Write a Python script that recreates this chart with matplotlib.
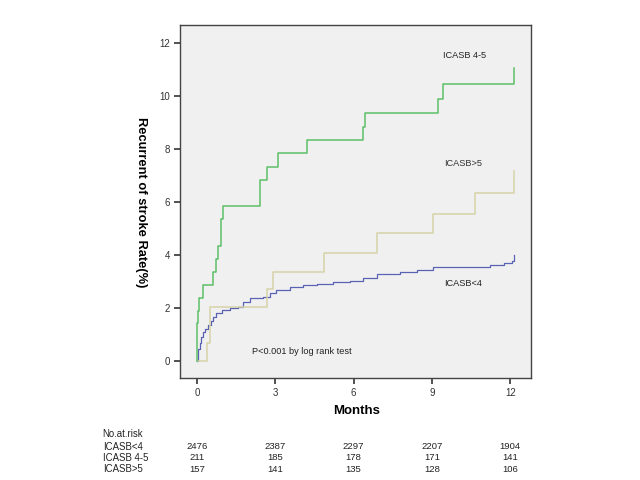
import matplotlib
matplotlib.use("Agg")
import matplotlib.pyplot as plt
from matplotlib.transforms import blended_transform_factory

plt.rcParams['font.family'] = ['Liberation Sans', 'DejaVu Sans']

# ICASB 4-5 (green) step curve: event times (months) and cumulative rate (%)
green_t = [0, 0.01, 0.04, 0.10, 0.24, 0.61, 0.75, 0.82, 0.91, 1.01, 2.43, 2.67, 3.09, 4.20, 6.38, 6.43, 9.25, 9.41, 12.13]
green_y = [0, 1.41, 1.89, 2.36, 2.86, 3.34, 3.83, 4.34, 5.34, 5.85, 6.83, 7.34, 7.84, 8.34, 8.85, 9.38, 9.91, 10.45, 11.08]

# ICASB>5 (beige)
beige_t = [0, 0.40, 0.50, 2.70, 2.93, 4.87, 6.89, 9.04, 10.66, 12.13]
beige_y = [0, 0.66, 2.02, 2.72, 3.37, 4.07, 4.82, 5.53, 6.33, 7.19]

# ICASB<4 (blue)
blue_t = [0, 0.03, 0.06, 0.11, 0.17, 0.24, 0.33, 0.43, 0.53, 0.63, 0.75, 0.95, 1.27, 1.58, 1.78, 2.03, 2.54,
          2.80, 3.05, 3.57, 4.08, 4.59, 5.23, 5.87, 6.38, 6.89, 7.78, 8.42, 9.06, 10.98, 11.23, 11.74, 12.06, 12.13]
blue_y = [0, 0.25, 0.45, 0.66, 0.90, 1.10, 1.22, 1.35, 1.50, 1.66, 1.82, 1.92, 1.98, 2.02, 2.23, 2.38, 2.42,
          2.55, 2.67, 2.80, 2.86, 2.92, 2.99, 3.01, 3.11, 3.28, 3.37, 3.43, 3.53, 3.53, 3.62, 3.71, 3.78, 4.00]

x_ticks = [0, 3, 6, 9, 12]
y_ticks = [0, 2, 4, 6, 8, 10, 12]

risk_groups = ['ICASB<4', 'ICASB 4-5', 'ICASB>5']
risk_counts = [
    [2476, 2387, 2297, 2207, 1904],
    [211, 185, 178, 171, 141],
    [157, 141, 135, 128, 106],
]

fig = plt.figure(figsize=(6.4, 4.8), dpi=100)
ax = fig.add_axes([0.281, 0.2125, 0.549, 0.736])
ax.set_facecolor('#f0f0f0')

ax.step(blue_t, blue_y, where='post', color='#5a62b4', lw=0.9)
ax.step(beige_t, beige_y, where='post', color='#d6d2a8', lw=1.1)
ax.step(green_t, green_y, where='post', color='#5cbf66', lw=1.1)

ax.set_xlim(-0.65, 12.8)
ax.set_ylim(-0.65, 12.7)
ax.set_xticks(x_ticks)
ax.set_yticks(y_ticks)
ax.tick_params(axis='both', direction='out', length=4, width=1.2, colors='#333333', labelsize=7, pad=3)
for s in ax.spines.values():
    s.set_color('#444444')
    s.set_linewidth(1.0)

ax.text(9.44, 11.52, 'ICASB 4-5', fontsize=6.6, va='center', ha='left', color='#222222')
ax.text(9.47, 7.44, 'ICASB>5', fontsize=6.6, va='center', ha='left', color='#333333')
ax.text(9.47, 2.92, 'ICASB<4', fontsize=6.6, va='center', ha='left', color='#222222')
ax.text(2.10, 0.34, 'P<0.001 by log rank test', fontsize=6.6, va='center', ha='left', color='#222222')

fig.text(140.7 / 640, 1 - 201.7 / 480, 'Recurrent of stroke Rate(%)', rotation=270,
         fontsize=9.3, fontweight='bold', ha='center', va='center')
fig.text(356.7 / 640, 1 - 410.7 / 480, 'Months', fontsize=9.5, fontweight='bold', ha='center', va='center')

trans = blended_transform_factory(ax.transData, fig.transFigure)
row_y = [1 - 446.7 / 480, 1 - 458 / 480, 1 - 469.5 / 480]
fig.text(102.7 / 640, 1 - 434 / 480, 'No.at.risk', fontsize=6.9, ha='left', va='center', color='#222222')
for name, counts, yy in zip(risk_groups, risk_counts, row_y):
    fig.text(102.7 / 640, yy, name, fontsize=6.9, ha='left', va='center', color='#222222')
    for xt, c in zip(x_ticks, counts):
        ax.text(xt, yy, str(c), transform=trans, fontsize=6.8, ha='center', va='center',
                clip_on=False, color='#222222')

fig.savefig('out.png', dpi=100, facecolor='white')
